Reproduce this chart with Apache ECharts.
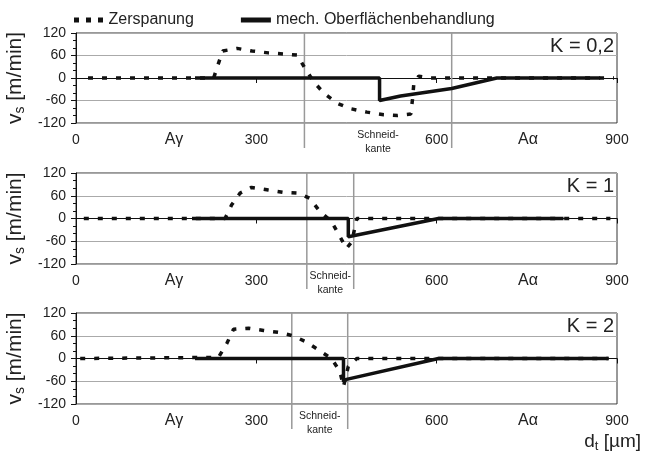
<!DOCTYPE html>
<html>
<head>
<meta charset="utf-8">
<script src="https://cdn.jsdelivr.net/npm/echarts@6/dist/echarts.min.js"></script>
<style>
  html, body { margin: 0; padding: 0; background: #fff; }
  #main { width: 645px; height: 460px; }
</style>
</head>
<body>
<div id="main"></div>
<script>
// K = 0,2
const cutX1 = [20, 229, 237, 244, 268, 293, 320, 346, 368, 382, 396, 412, 434, 457, 484, 512, 535, 557, 560, 562, 570, 590, 895];
const cutV1 = [0, 0, 39, 72, 79, 72, 67, 64, 61, 23, -11, -40, -67, -82, -91, -98, -100, -96, -54, -15, 5, 0, 0];
const mechX1 = [198, 505, 505, 540, 625, 700, 872];
const mechV1 = [0, 0, -60, -48, -28, 0, 0];
// K = 1
const cutX2 = [13, 248, 259, 273, 292, 320, 345, 370, 389, 406, 425, 436, 450, 459, 467, 889];
const cutV2 = [0, 0, 36, 67, 82, 75, 69, 67, 53, 18, -8, -39, -79, -61, 0, 0];
const mechX2 = [193, 453, 453, 603, 811];
const mechV2 = [0, 0, -48, 0, 0];
// K = 2
const cutX3 = [7, 237, 251, 262, 287, 312, 337, 361, 384, 403, 425, 439, 445, 453, 467, 886];
const cutV3 = [0, 3, 40, 77, 80, 74, 69, 60, 43, 23, 0, -34, -74, -21, 0, 0];
const mechX3 = [198, 445, 445, 450, 603, 886];
const mechV3 = [0, 0, -61, -55, 0, 0];

// Schneidkante borders per panel
const edges = [[380, 625], [384, 462], [359, 452]];
const kLabels = ['K = 0,2', 'K = 1', 'K = 2'];
const xTicks = [0, 300, 600, 900];
const yTicks = [-120, -60, 0, 60, 120];

const FONT = 'Liberation Sans, Arial, sans-serif';
const names = ['Zerspanung', 'mech. Oberflächenbehandlung'];

function pairs(xs, vs) {
  return xs.map(function (x, i) { return [x, vs[i]]; });
}

const panels = [
  { cut: pairs(cutX1, cutV1), mech: pairs(mechX1, mechV1), top: 33, height: 90 },
  { cut: pairs(cutX2, cutV2), mech: pairs(mechX2, mechV2), top: 173, height: 91 },
  { cut: pairs(cutX3, cutV3), mech: pairs(mechX3, mechV3), top: 313, height: 91 }
];

const chart = echarts.init(document.getElementById('main'));

const grids = [], xAxes = [], yAxes = [], series = [];
panels.forEach(function (p, i) {
  grids.push({
    left: 76, right: 28, top: p.top, height: p.height, outerBoundsMode: 'none', containLabel: false,
    show: true, borderColor: '#333', borderWidth: 1
  });
  xAxes.push({
    type: 'value', gridIndex: i, min: xTicks[0], max: xTicks[xTicks.length - 1], interval: 300,
    axisLine: { lineStyle: { color: '#111', width: 1 } },
    axisTick: { show: true, length: 5, lineStyle: { color: '#111' } },
    axisLabel: { color: '#222', fontSize: 14, fontFamily: FONT, margin: 10 },
    splitLine: { show: false }
  });
  yAxes.push({
    type: 'value', gridIndex: i, min: yTicks[0], max: yTicks[yTicks.length - 1], interval: 60,
    name: '{v|v}{s|s}{v| [m/min]}', nameLocation: 'middle', nameGap: 40, nameRotate: 90,
    nameTextStyle: {
      rich: {
        v: { fontSize: 21, fontFamily: FONT, color: '#222' },
        s: { fontSize: 14, fontFamily: FONT, color: '#222', padding: [10, 0, 0, 0] }
      }
    },
    axisLine: { show: true, lineStyle: { color: '#111', width: 1 } },
    axisTick: { show: true, length: 5, lineStyle: { color: '#111' } },
    minorTick: { show: true, splitNumber: 3, length: 3, lineStyle: { color: '#111' } },
    axisLabel: { color: '#222', fontSize: 14, fontFamily: FONT, margin: 10 },
    splitLine: { show: true, lineStyle: { color: '#aaa', width: 1 } }
  });
  series.push({
    name: names[0], type: 'line', xAxisIndex: i, yAxisIndex: i, data: p.cut,
    symbol: 'none', z: 3,
    lineStyle: { color: '#111', width: 3.5, type: [5, 9] },
    itemStyle: { color: '#111' }
  });
  series.push({
    name: names[1], type: 'line', xAxisIndex: i, yAxisIndex: i, data: p.mech,
    symbol: 'none', z: 4,
    lineStyle: { color: '#111', width: 3.5, type: 'solid' },
    itemStyle: { color: '#111' }
  });
});

chart.setOption({
  animation: false,
  backgroundColor: '#fff',
  legend: {
    top: 7, left: 69, itemWidth: 30, itemHeight: 5, itemGap: 47,
    data: [
      { name: names[0], icon: 'path://M0,0h5v5h-5z M12,0h5v5h-5z M24,0h5v5h-5z' },
      { name: names[1], icon: 'rect' }
    ],
    itemStyle: { color: '#111' },
    textStyle: { fontSize: 16, fontFamily: FONT, color: '#222' }
  },
  grid: grids,
  xAxis: xAxes,
  yAxis: yAxes,
  series: series
});

// annotations positioned through the axes' scales
const elements = [];
panels.forEach(function (p, i) {
  const topY = chart.convertToPixel({ gridIndex: i }, [0, 120])[1];
  const botY = chart.convertToPixel({ gridIndex: i }, [0, -120])[1];
  edges[i].forEach(function (xv) {
    const px = chart.convertToPixel({ gridIndex: i }, [xv, 0])[0];
    elements.push({
      type: 'line', z: 1, silent: true,
      shape: { x1: px, y1: topY, x2: px, y2: botY + 25 },
      style: { stroke: '#999', lineWidth: 1.5 }
    });
  });
  const mid = chart.convertToPixel({ gridIndex: i }, [(edges[i][0] + edges[i][1]) / 2, 0])[0];
  elements.push({
    type: 'text', silent: true, x: mid, y: botY + 5,
    style: { text: 'Schneid-\nkante', fontSize: 10.5, fontFamily: FONT, fill: '#222', lineHeight: 14,
      align: 'center', textAlign: 'center', verticalAlign: 'top', textVerticalAlign: 'top' }
  });
  const ag = chart.convertToPixel({ gridIndex: i }, [163, 0])[0];
  const aa = chart.convertToPixel({ gridIndex: i }, [752, 0])[0];
  [[ag, 'Aγ'], [aa, 'Aα']].forEach(function (t) {
    elements.push({
      type: 'text', silent: true, x: t[0], y: botY + 9,
      style: { text: t[1], fontSize: 16, fontFamily: FONT, fill: '#222',
        align: 'center', textAlign: 'center', verticalAlign: 'top', textVerticalAlign: 'top' }
    });
  });
  const right = chart.convertToPixel({ gridIndex: i }, [900, 120]);
  elements.push({
    type: 'text', silent: true, x: right[0] - 3, y: right[1] + 3,
    style: { text: kLabels[i], fontSize: 20, fontFamily: FONT, fill: '#222',
      align: 'right', textAlign: 'right', verticalAlign: 'top', textVerticalAlign: 'top' }
  });
});
elements.push({
  type: 'text', silent: true, right: 4, top: 432,
  style: {
    text: '{a|d}{b|t}{a| [µm]}', fill: '#222',
    rich: {
      a: { fontSize: 19, fontFamily: FONT, fill: '#222', color: '#222' },
      b: { fontSize: 13, fontFamily: FONT, fill: '#222', color: '#222', padding: [10, 0, 0, 0] }
    }
  }
});
chart.setOption({ graphic: { elements: elements } });
</script>
</body>
</html>
